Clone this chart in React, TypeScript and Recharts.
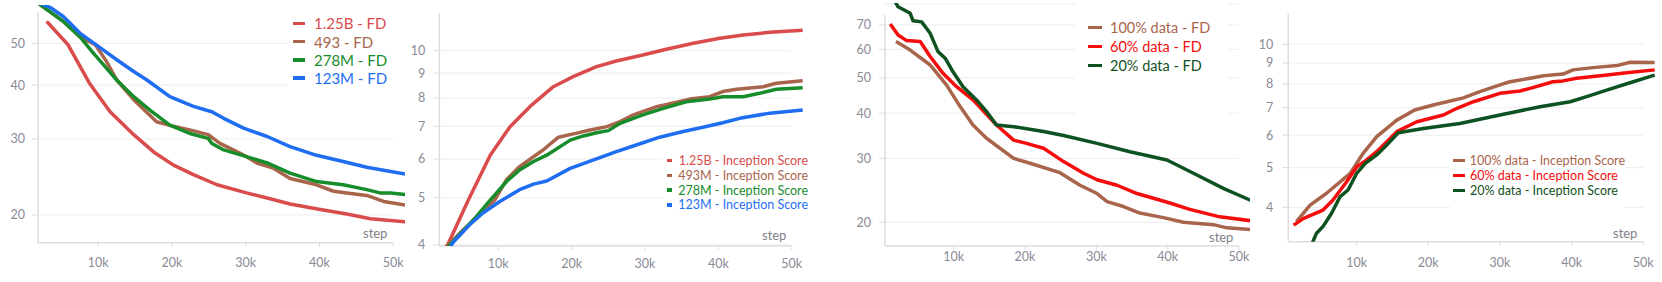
import { LineChart, Line, XAxis, YAxis, ReferenceLine } from 'recharts';

type Pt = [number, number];

// ---- data (step, value) ----
const xTicks = [10000, 20000, 30000, 40000, 50000];

const fd125b: Pt[] = [[3000, 56.2], [5900, 49.6], [8800, 40.4], [11600, 34.7], [14800, 30.7], [17500, 28.0], [20200, 26.1], [22900, 24.8], [26100, 23.5], [30100, 22.5], [32900, 21.9], [36000, 21.2], [40100, 20.6], [43700, 20.1], [46900, 19.6], [51600, 19.3]];
const fd493: Pt[] = [[1500, 62.5], [5300, 56.1], [7500, 51.8], [9600, 49.6], [11100, 45.4], [12500, 41.1], [14800, 37.0], [17900, 32.9], [20200, 32.1], [22400, 31.5], [24900, 30.7], [26500, 29.3], [28300, 28.3], [30100, 27.3], [31500, 26.4], [33700, 25.7], [36000, 24.3], [39600, 23.5], [41900, 22.7], [43700, 22.5], [46400, 22.2], [48700, 21.5], [51600, 21.1]];
const fd278: Pt[] = [[1500, 62.5], [5300, 56.1], [7500, 51.8], [9300, 47.5], [11100, 43.8], [12500, 41.1], [14800, 37.6], [17000, 35.0], [19700, 32.3], [22400, 30.9], [24900, 30.1], [25400, 29.3], [27000, 28.3], [30100, 27.3], [32900, 26.4], [36000, 25.0], [39600, 23.9], [43200, 23.5], [46400, 22.9], [48200, 22.5], [49600, 22.5], [51600, 22.3]];
const fd123: Pt[] = [[1500, 62.5], [3500, 60.5], [5300, 57.6], [7500, 52.8], [10000, 49.2], [12500, 45.8], [14800, 43.0], [16600, 41.1], [19700, 37.6], [22900, 35.7], [25400, 34.7], [27000, 33.5], [29700, 31.8], [32900, 30.4], [36000, 28.8], [39600, 27.5], [43200, 26.6], [46400, 25.8], [51600, 24.9]];

const is125b: Pt[] = [[1800, 3.76], [3200, 4.03], [5900, 4.94], [8900, 6.11], [11600, 6.99], [14300, 7.68], [17500, 8.44], [20200, 8.85], [23400, 9.28], [26100, 9.53], [29700, 9.8], [32900, 10.07], [36600, 10.36], [40200, 10.61], [43400, 10.77], [47000, 10.91], [51500, 11.02]];
const is493: Pt[] = [[1800, 3.76], [3200, 4.0], [5200, 4.29], [7900, 4.68], [9500, 4.94], [11100, 5.44], [12900, 5.79], [16100, 6.26], [18200, 6.65], [20700, 6.78], [22500, 6.88], [24800, 6.99], [26600, 7.16], [28400, 7.39], [31600, 7.68], [34300, 7.84], [36100, 7.96], [38800, 8.05], [40600, 8.25], [42500, 8.34], [46100, 8.44], [47900, 8.58], [51500, 8.68]];
const is278: Pt[] = [[1800, 3.76], [3200, 3.97], [7000, 4.57], [8900, 4.94], [11100, 5.39], [12900, 5.7], [14800, 5.93], [16600, 6.11], [19800, 6.56], [21600, 6.69], [23400, 6.79], [25000, 6.86], [26600, 7.1], [29700, 7.39], [32500, 7.62], [35600, 7.86], [38800, 7.96], [40600, 8.05], [43400, 8.05], [45600, 8.18], [47900, 8.34], [51500, 8.4]];
const is123: Pt[] = [[2500, 3.76], [3900, 4.06], [6100, 4.4], [7900, 4.65], [10200, 4.91], [12900, 5.19], [14800, 5.33], [16600, 5.41], [19800, 5.74], [22900, 5.97], [26100, 6.21], [28800, 6.41], [32000, 6.65], [35200, 6.83], [37900, 6.97], [40600, 7.12], [42900, 7.27], [47000, 7.45], [51500, 7.56]];

const fd100: Pt[] = [[1900, 63.0], [3900, 59.7], [6700, 54.3], [9000, 47.8], [10900, 41.7], [12700, 37.1], [14600, 34.1], [18400, 30.0], [20700, 29.1], [24900, 27.4], [27700, 25.3], [30100, 24.0], [31500, 22.8], [33800, 22.1], [36100, 21.2], [39400, 20.6], [42200, 20.0], [46400, 19.7], [48300, 19.3], [51600, 19.1]];
const fd60: Pt[] = [[1100, 70.5], [2200, 65.7], [3400, 63.4], [5300, 63.0], [6700, 57.3], [8500, 51.5], [10400, 47.3], [12700, 43.5], [16000, 37.1], [18400, 33.7], [20200, 33.0], [22600, 32.0], [25400, 29.4], [28200, 27.3], [30100, 26.2], [32900, 25.3], [35700, 24.0], [40300, 22.6], [43100, 21.7], [47300, 20.7], [51600, 20.2]];
const fd20: Pt[] = [[1500, 83], [2200, 78.6], [3900, 75.4], [4300, 71.9], [5500, 71.4], [6700, 66.4], [7800, 59.1], [8800, 56.7], [9900, 52.0], [11300, 47.3], [13200, 43.5], [14600, 40.4], [16000, 37.1], [18400, 36.7], [22600, 35.6], [25400, 34.7], [30100, 33.0], [34700, 31.3], [39900, 29.7], [44100, 27.0], [47800, 24.8], [51600, 23.0]];

const is100: Pt[] = [[1600, 3.69], [3500, 4.05], [5800, 4.33], [9100, 4.84], [10900, 5.42], [12800, 5.95], [15600, 6.53], [18100, 6.91], [20700, 7.11], [22600, 7.24], [24900, 7.4], [27200, 7.66], [30000, 7.96], [31400, 8.1], [34200, 8.26], [36100, 8.38], [38800, 8.46], [40200, 8.66], [43000, 8.77], [46300, 8.87], [48200, 9.04], [51600, 9.02]];
const is60: Pt[] = [[1200, 3.62], [2600, 3.76], [5300, 3.94], [6700, 4.17], [8600, 4.62], [10000, 5.02], [11400, 5.22], [12800, 5.47], [15600, 6.12], [18400, 6.47], [22100, 6.72], [24000, 6.98], [26300, 7.24], [30000, 7.59], [32800, 7.69], [34700, 7.85], [37400, 8.1], [38800, 8.14], [40700, 8.26], [44000, 8.38], [47700, 8.52], [51600, 8.66]];
const is20: Pt[] = [[1900, 3.0], [3700, 3.24], [4400, 3.46], [5300, 3.59], [6500, 3.87], [7700, 4.25], [8800, 4.41], [10000, 4.84], [11200, 5.12], [12800, 5.37], [14200, 5.68], [15800, 6.08], [19300, 6.23], [24400, 6.41], [30000, 6.72], [35600, 7.04], [39800, 7.24], [42100, 7.45], [44900, 7.73], [48600, 8.1], [51600, 8.41]];

const fdTicks = [20, 30, 40, 50];
const isTicks = [4, 5, 6, 7, 8, 9, 10];
const dataFdTicks = [20, 30, 40, 50, 60, 70];

// ---- styling ----
const H = 282;
const X_AXIS_H = 30;
const FONT = 'Lato, "Noto Sans", sans-serif';
const GRID = '#ededed';
const AXIS = '#dddddd';
const TICK = '#8a8a95';

const RED = '#da4c4c';
const BROWN = '#a9654b';
const GREEN = '#178c2b';
const BLUE = '#1f6ef2';
const BRIGHT_RED = '#f50d0d';
const DARK_GREEN = '#0f5222';

interface Series { name: string; color: string; points: Pt[] }

interface LegendBox {
  left: number; top: number; width: number; height: number;
  padLeft: number; padTop: number; rowH: number; fontSize: number;
  swatchW: number; gap: number;
}

interface PanelCfg {
  left: number; width: number;
  plotLeft: number; plotRight: number; plotTop: number; plotBottom: number;
  xDomain: [number, number]; yDomain: [number, number];
  yTicks: number[]; gridValues: number[]; yAxisTop: number;
  xTickGap: number; yTickGap: number;
  series: Series[];
  legend: LegendBox;
  step: { left: number; top: number };
}

const panels: PanelCfg[] = [
  {
    left: 0, width: 412, plotLeft: 38, plotRight: 405, plotTop: 5, plotBottom: 242.7,
    xDomain: [1824, 51590], yDomain: [17.25, 61.33],
    yTicks: fdTicks, gridValues: fdTicks, yAxisTop: 58.9,
    xTickGap: 11, yTickGap: 7,
    series: [
      { name: '1.25B - FD', color: RED, points: fd125b },
      { name: '493 - FD', color: BROWN, points: fd493 },
      { name: '278M - FD', color: GREEN, points: fd278 },
      { name: '123M - FD', color: BLUE, points: fd123 },
    ],
    legend: { left: 288, top: 5, width: 117, height: 90, padLeft: 5, padTop: 9.2, rowH: 18.3, fontSize: 15, swatchW: 12, gap: 9 },
    step: { left: 363, top: 225 },
  },
  {
    left: 410, width: 400, plotLeft: 29.3, plotRight: 393.3, plotTop: 13, plotBottom: 246,
    xDomain: [1956, 51580], yDomain: [3.98, 11.95],
    yTicks: isTicks, gridValues: isTicks, yAxisTop: 11.95,
    xTickGap: 9, yTickGap: 8,
    series: [
      { name: '1.25B - Inception Score', color: RED, points: is125b },
      { name: '493M - Inception Score', color: BROWN, points: is493 },
      { name: '278M - Inception Score', color: GREEN, points: is278 },
      { name: '123M - Inception Score', color: BLUE, points: is123 },
    ],
    legend: { left: 253, top: 150, width: 145, height: 64, padLeft: 3.7, padTop: 3.3, rowH: 14.77, fontSize: 12.5, swatchW: 10, gap: 6.6 },
    step: { left: 352, top: 227 },
  },
  {
    left: 830, width: 425, plotLeft: 55, plotRight: 420, plotTop: 3, plotBottom: 246,
    xDomain: [365, 51540], yDomain: [17.2, 80.5],
    yTicks: dataFdTicks, gridValues: [...dataFdTicks, 80], yAxisTop: 74.6,
    xTickGap: 2, yTickGap: 8,
    series: [
      { name: '100% data - FD', color: BROWN, points: fd100 },
      { name: '60% data - FD', color: BRIGHT_RED, points: fd60 },
      { name: '20% data - FD', color: DARK_GREEN, points: fd20 },
    ],
    legend: { left: 245, top: 3, width: 153, height: 115, padLeft: 13, padTop: 14.7, rowH: 19.2, fontSize: 14.5, swatchW: 13.7, gap: 8.3 },
    step: { left: 379, top: 228.7 },
  },
  {
    left: 1255, width: 405, plotLeft: 33.3, plotRight: 400, plotTop: 13.3, plotBottom: 241.7,
    xDomain: [460, 51640], yDomain: [3.298, 11.9],
    yTicks: isTicks, gridValues: isTicks, yAxisTop: 11.9,
    xTickGap: 12, yTickGap: 9,
    series: [
      { name: '100% data - Inception Score', color: BROWN, points: is100 },
      { name: '60% data - Inception Score', color: BRIGHT_RED, points: is60 },
      { name: '20% data - Inception Score', color: DARK_GREEN, points: is20 },
    ],
    legend: { left: 195, top: 148, width: 175, height: 66, padLeft: 3, padTop: 5.3, rowH: 14.8, fontSize: 12.5, swatchW: 12, gap: 5 },
    step: { left: 358, top: 225.3 },
  },
];

const kFormat = (v: number) => `${v / 1000}k`;

function Panel({ cfg }: { cfg: PanelCfg }) {
  const [x0] = cfg.xDomain;
  const [y0] = cfg.yDomain;
  const lg = cfg.legend;
  return (
    <div style={{ position: 'absolute', left: cfg.left, top: 0, width: cfg.width, height: H }}>
      <LineChart
        width={cfg.width}
        height={H}
        margin={{ top: cfg.plotTop, right: cfg.width - cfg.plotRight, bottom: H - cfg.plotBottom - X_AXIS_H, left: 0 }}
      >
        <XAxis
          type="number"
          dataKey="step"
          domain={cfg.xDomain}
          allowDataOverflow
          ticks={xTicks}
          interval={0}
          tickFormatter={kFormat}
          axisLine={false}
          tickLine={{ stroke: AXIS }}
          tickSize={4}
          tickMargin={cfg.xTickGap}
          height={X_AXIS_H}
          tick={{ fill: TICK, fontSize: 12.5, fontFamily: FONT }}
        />
        <YAxis
          type="number"
          scale="log"
          domain={cfg.yDomain}
          allowDataOverflow
          ticks={cfg.yTicks}
          interval={0}
          width={cfg.plotLeft}
          axisLine={false}
          tickLine={{ stroke: AXIS }}
          tickSize={6}
          tickMargin={cfg.yTickGap}
          tick={{ fill: TICK, fontSize: 12.5, fontFamily: FONT }}
        />
        {cfg.gridValues.map((g) => (
          <ReferenceLine key={g} segment={[{ x: x0, y: g }, { x: 50000, y: g }]} stroke={GRID} ifOverflow="visible" />
        ))}
        <ReferenceLine segment={[{ x: x0, y: y0 }, { x: 50000, y: y0 }]} stroke={AXIS} strokeWidth={1.5} ifOverflow="visible" />
        <ReferenceLine segment={[{ x: x0, y: cfg.yAxisTop }, { x: x0, y: y0 }]} stroke={AXIS} strokeWidth={1.5} ifOverflow="visible" />
        {cfg.series.map((s) => (
          <Line
            key={s.name}
            name={s.name}
            data={s.points.map(([step, value]) => ({ step, value }))}
            dataKey="value"
            type="linear"
            stroke={s.color}
            strokeWidth={3.5}
            strokeLinejoin="round"
            dot={false}
            activeDot={false}
            isAnimationActive={false}
          />
        ))}
      </LineChart>
      <div
        style={{
          position: 'absolute', left: lg.left, top: lg.top, width: lg.width, height: lg.height,
          background: '#fff', paddingLeft: lg.padLeft, paddingTop: lg.padTop, boxSizing: 'border-box',
          fontFamily: FONT, fontSize: lg.fontSize,
        }}
      >
        {cfg.series.map((s) => (
          <div key={s.name} style={{ display: 'flex', alignItems: 'center', height: lg.rowH, whiteSpace: 'nowrap' }}>
            <span style={{ display: 'inline-block', width: lg.swatchW, height: 3.5, background: s.color, marginRight: lg.gap }} />
            <span style={{ color: s.color }}>{s.name}</span>
          </div>
        ))}
      </div>
      <div
        style={{
          position: 'absolute', left: cfg.step.left, top: cfg.step.top, fontFamily: FONT,
          fontSize: 13, lineHeight: '16px', color: '#7f7f8a',
        }}
      >
        step
      </div>
    </div>
  );
}

export default function App() {
  return (
    <div style={{ position: 'absolute', left: 0, top: 0, width: 1662, height: H, background: '#fff', overflow: 'hidden' }}>
      {panels.map((p, i) => (
        <Panel key={i} cfg={p} />
      ))}
    </div>
  );
}
